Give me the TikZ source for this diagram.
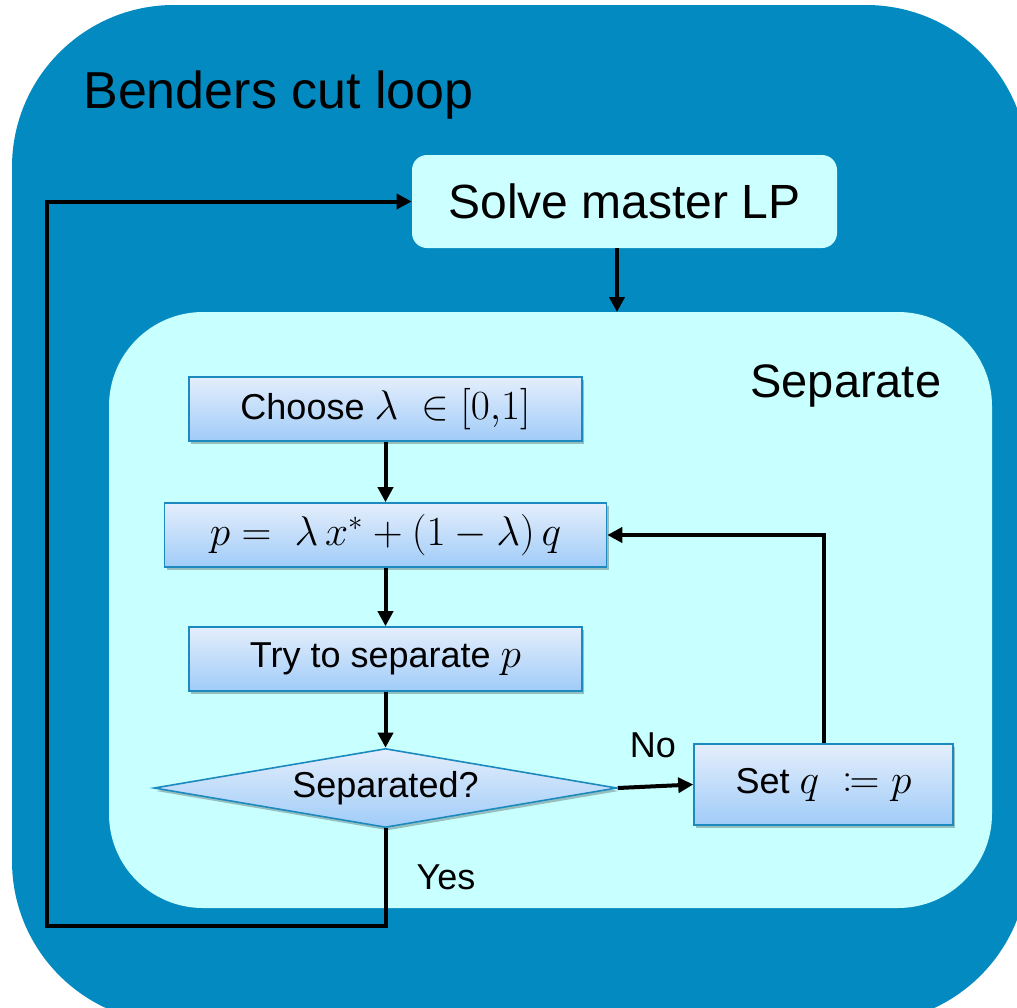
\documentclass[tikz,border=0pt]{standalone}
\usepackage{fontspec}
\setmainfont{Liberation Sans}
\usepackage{amsmath,mathtools}
\usetikzlibrary{arrows.meta,shapes.geometric,shadows}

\definecolor{loopblue}{RGB}{3,138,192}
\definecolor{sepcyan}{RGB}{200,255,255}
\definecolor{solvecyan}{RGB}{204,255,255}
\definecolor{boxtop}{RGB}{228,238,252}
\definecolor{boxbot}{RGB}{160,204,248}
\definecolor{boxedge}{RGB}{28,138,190}

% formulas are set a little larger than the surrounding sans text
\newcommand{\flowmath}[1]{{\fontsize{20.5}{24}\selectfont$#1$}}

\tikzset{
  flowbox/.style={rectangle, draw=boxedge, line width=0.8pt,
    top color=boxtop, bottom color=boxbot, inner sep=0pt,
    font=\fontsize{18}{20}\selectfont,
    drop shadow={shadow xshift=1pt, shadow yshift=-1.5pt, fill=black, opacity=0.25}},
  flowdecision/.style={flowbox, diamond, shape aspect=5.8},
  solvebox/.style={rectangle, fill=solvecyan, rounded corners=7.5pt,
    minimum width=212.5pt, minimum height=46.5pt, inner sep=0pt,
    font=\fontsize{24}{28}\selectfont},
  link/.style={line width=2pt, -{Triangle[length=7.5pt,width=7.5pt]}},
  branchlabel/.style={font=\fontsize{18}{20}\selectfont, inner sep=0pt},
}

\begin{document}
\begin{tikzpicture}[x=0.5pt,y=-0.5pt]
\useasboundingbox (0,0) rectangle (1017,1007);

% outer loop panel
\begin{scope}
  \clip (0,0) rectangle (1017,1007);
  \fill[loopblue, rounded corners=81pt] (12,5) rectangle (1028,1023);
\end{scope}
\node[anchor=base west, inner sep=0pt, font=\fontsize{26}{30}\selectfont]
  (looptitle) at (83,108) {Benders cut loop};

% separation panel
\fill[sepcyan, rounded corners=47pt] (109,312) rectangle (992,908);
\node[anchor=base west, inner sep=0pt, font=\fontsize{23.5}{28}\selectfont]
  (septitle) at (750,397) {Separate};

% master problem
\node[solvebox] (solve) at (624.5,201.5) {Solve master LP};

% separation steps
\node[flowbox, minimum width=196.5pt, minimum height=32pt] (choose) at (385.5,409)
  {Choose \flowmath{\lambda\;\in[0{,}1]}};
\node[flowbox, minimum width=221pt, minimum height=32pt] (point) at (385.5,535)
  {\flowmath{p =\; \lambda\, x^* + (1-\lambda)\, q}};
\node[flowbox, minimum width=196.5pt, minimum height=32pt] (try) at (385.5,659)
  {Try to separate \flowmath{p}};
\node[flowdecision, minimum width=231.5pt, minimum height=39.5pt] (sepq) at (385.5,788)
  {Separated?};
\node[flowbox, minimum width=129.5pt, minimum height=40.5pt] (setq) at (823.5,784.5)
  {Set \flowmath{q\;\coloneqq p}};

% branch labels
\node[branchlabel] (nolabel) at (653,745) {No};
\node[branchlabel] (yeslabel) at (446,877) {Yes};

% connectors
\coordinate (sepentry) at (617,312);
\coordinate (yesturn) at (385.5,926);
\coordinate (loopcorner) at (47,926);

\draw[link] (solve.south -| sepentry) -- (sepentry);
\draw[link] (choose) -- (point);
\draw[link] (point) -- (try);
\draw[link] (try) -- (sepq);
\draw[link] (sepq.east) -- (setq.west);
\draw[link] (setq.north) |- (point.east);
\draw[link] (sepq.south) -- (yesturn) -- (loopcorner) |- (solve.west);
\end{tikzpicture}
\end{document}
